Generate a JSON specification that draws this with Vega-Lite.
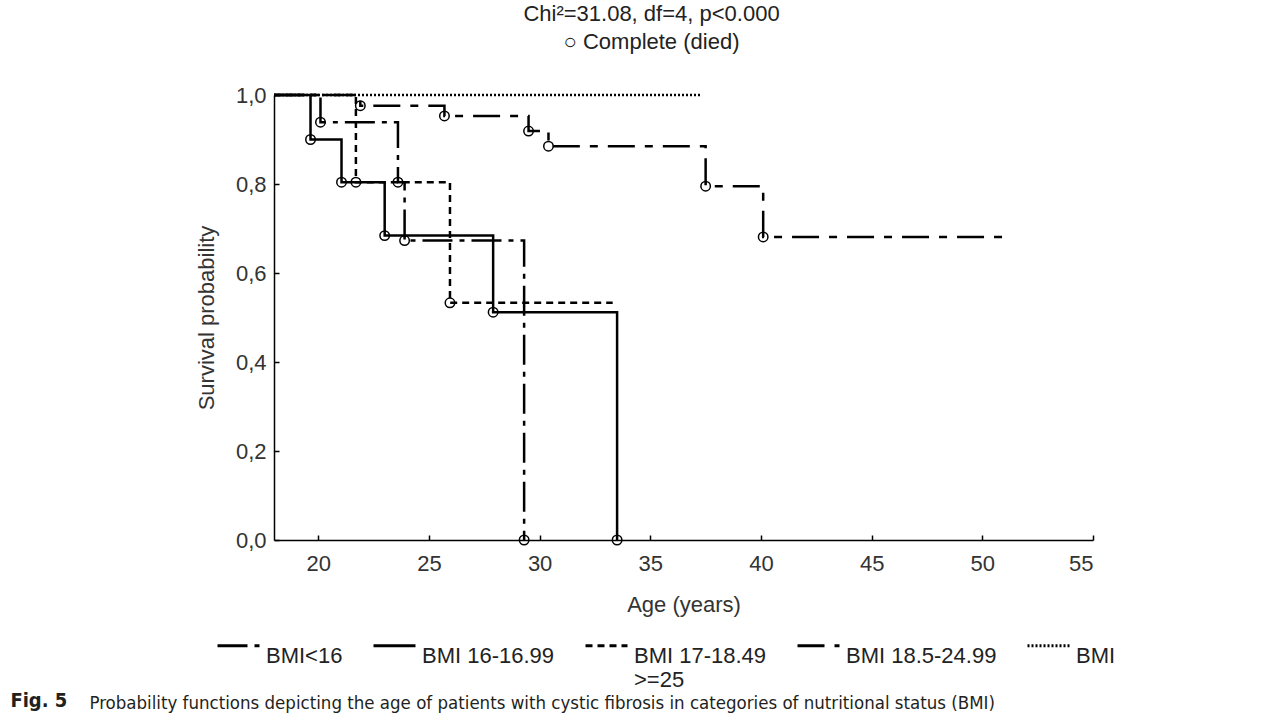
{
  "$schema": "https://vega.github.io/schema/vega-lite/v6.json",
  "padding": {"left": 10, "top": 3, "right": 5, "bottom": 5},
  "background": "white",
  "config": {
    "font": "Liberation Sans",
    "view": {"stroke": null},
    "concat": {"spacing": 0}
  },
  "title": {
    "text": "Fig. 5",
    "orient": "bottom",
    "anchor": "start",
    "font": "DejaVu Sans Condensed, Liberation Sans",
    "fontSize": 20,
    "fontWeight": "bold",
    "color": "#231f20",
    "dx": -79,
    "dy": -22,
    "offset": 0
  },
  "vconcat": [
    {
      "title": {
        "text": "Probability functions depicting the age of patients with cystic fibrosis in categories of nutritional status (BMI)",
        "orient": "bottom",
        "anchor": "start",
        "font": "DejaVu Sans Condensed, Liberation Sans",
        "fontSize": 18.5,
        "fontWeight": "normal",
        "color": "#231f20",
        "dx": -106,
        "offset": 79
      },
      "vconcat": [
        {
          "title": {
            "text": "Chi²=31.08, df=4, p<0.000",
            "subtitle": "○ Complete (died)",
            "anchor": "middle",
            "frame": "group",
            "dx": -32,
            "fontSize": 22,
            "fontWeight": "normal",
            "color": "#222222",
            "subtitleFontSize": 22,
            "subtitleColor": "#222222",
            "subtitlePadding": 6,
            "offset": 30
          },
          "width": 819,
          "height": 445,
          "data": {
            "values": [
              {"series": "BMI<16", "age": 18, "surv": 1.0, "event": 0},
              {"series": "BMI<16", "age": 20.1, "surv": 0.939, "event": 1},
              {"series": "BMI<16", "age": 23.6, "surv": 0.804, "event": 1},
              {"series": "BMI<16", "age": 23.9, "surv": 0.673, "event": 1},
              {"series": "BMI<16", "age": 29.3, "surv": 0.0, "event": 1},
              {"series": "BMI 16-16.99", "age": 18, "surv": 1.0, "event": 0},
              {"series": "BMI 16-16.99", "age": 19.65, "surv": 0.9, "event": 1},
              {"series": "BMI 16-16.99", "age": 21.05, "surv": 0.804, "event": 1},
              {"series": "BMI 16-16.99", "age": 23.0, "surv": 0.684, "event": 1},
              {"series": "BMI 16-16.99", "age": 27.9, "surv": 0.512, "event": 1},
              {"series": "BMI 16-16.99", "age": 33.5, "surv": 0.0, "event": 1},
              {"series": "BMI 17-18.49", "age": 18, "surv": 1.0, "event": 0},
              {"series": "BMI 17-18.49", "age": 21.7, "surv": 0.804, "event": 1},
              {"series": "BMI 17-18.49", "age": 25.95, "surv": 0.533, "event": 1},
              {"series": "BMI 17-18.49", "age": 33.3, "surv": 0.533, "event": 0},
              {"series": "BMI 18.5-24.99", "age": 18, "surv": 1.0, "event": 0},
              {"series": "BMI 18.5-24.99", "age": 21.9, "surv": 0.976, "event": 1},
              {"series": "BMI 18.5-24.99", "age": 25.7, "surv": 0.953, "event": 1},
              {"series": "BMI 18.5-24.99", "age": 29.5, "surv": 0.919, "event": 1},
              {"series": "BMI 18.5-24.99", "age": 30.4, "surv": 0.885, "event": 1},
              {"series": "BMI 18.5-24.99", "age": 37.5, "surv": 0.795, "event": 1},
              {"series": "BMI 18.5-24.99", "age": 40.1, "surv": 0.681, "event": 1},
              {"series": "BMI 18.5-24.99", "age": 51.2, "surv": 0.681, "event": 0},
              {"series": "BMI >=25", "age": 18, "surv": 1.0, "event": 0},
              {"series": "BMI >=25", "age": 37.3, "surv": 1.0, "event": 0}
            ]
          },
          "layer": [
            {
              "mark": {"type": "line", "interpolate": "step-after", "color": "black", "strokeWidth": 2.5},
              "encoding": {
                "x": {
                  "field": "age", "type": "quantitative",
                  "scale": {"domain": [18, 55], "nice": false, "zero": false},
                  "axis": {
                    "title": "Age (years)",
                    "values": [20, 25, 30, 35, 40, 45, 50, 55],
                    "grid": false,
                    "domainColor": "black", "domainWidth": 1.5,
                    "tickColor": "black", "tickWidth": 1.5, "tickSize": -5,
                    "labelFontSize": 22, "labelColor": "#333333", "labelPadding": 18,
                    "titleFontSize": 22, "titleFontWeight": "normal", "titleColor": "#333333", "titlePadding": 20
                  }
                },
                "y": {
                  "field": "surv", "type": "quantitative",
                  "scale": {"domain": [0, 1], "nice": false},
                  "axis": {
                    "title": "Survival probability",
                    "values": [0, 0.2, 0.4, 0.6, 0.8, 1.0],
                    "format": ".1f",
                    "labelExpr": "replace(datum.label, '.', ',')",
                    "grid": false,
                    "domainColor": "black", "domainWidth": 1.5,
                    "tickColor": "black", "tickWidth": 1.5, "tickSize": -5,
                    "labelFontSize": 22, "labelColor": "#333333", "labelPadding": 13,
                    "titleFontSize": 22, "titleFontWeight": "normal", "titleColor": "#333333", "titlePadding": 17
                  }
                },
                "strokeDash": {
                  "field": "series", "type": "nominal",
                  "scale": {
                    "domain": ["BMI<16", "BMI 16-16.99", "BMI 17-18.49", "BMI 18.5-24.99", "BMI >=25"],
                    "range": [[30, 7, 5, 7], [1, 0], [7, 5], [27, 10, 8, 10], [2, 2]]
                  },
                  "legend": {
                    "title": null,
                    "orient": "none",
                    "legendX": -58,
                    "legendY": 528,
                    "direction": "horizontal",
                    "columns": 5,
                    "columnPadding": 24,
                    "symbolType": "stroke",
                    "symbolSize": 1764,
                    "symbolStrokeWidth": 3,
                    "symbolStrokeColor": "black",
                    "labelOffset": 5,
                    "labelFontSize": 22,
                    "labelColor": "#222222",
                    "labelBaseline": "top",
                    "labelLimit": 400,
                    "labelExpr": "datum.label == 'BMI 17-18.49' ? ['BMI 17-18.49', '>=25'] : [datum.label == 'BMI >=25' ? 'BMI' : datum.label, '']"
                  }
                }
              }
            },
            {
              "transform": [{"filter": "datum.event == 1"}],
              "mark": {"type": "point", "shape": "circle", "filled": false, "color": "black", "size": 90, "strokeWidth": 1.5, "opacity": 1},
              "encoding": {
                "x": {"field": "age", "type": "quantitative"},
                "y": {"field": "surv", "type": "quantitative"}
              }
            }
          ]
        }
      ]
    }
  ]
}
